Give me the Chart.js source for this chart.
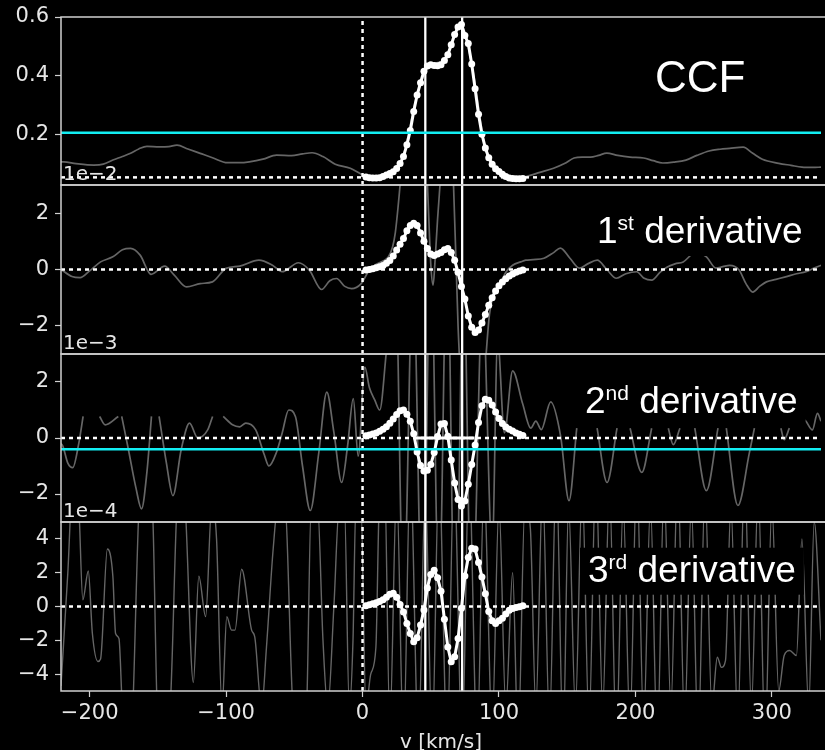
<!DOCTYPE html>
<html>
<head>
<meta charset="utf-8">
<script src="https://cdn.jsdelivr.net/npm/chart.js@4.4.1/dist/chart.umd.min.js"></script>
<style>
  html, body { margin: 0; padding: 0; background: #000; }
  #wrap { position: relative; width: 825px; height: 750px; overflow: hidden; background: #000; }
  canvas { position: absolute; left: 0; }
</style>
</head>
<body>
<div id="wrap">
  <canvas id="p1"></canvas>
  <canvas id="p2"></canvas>
  <canvas id="p3"></canvas>
  <canvas id="p4"></canvas>
</div>
<script>
// ---- data ----
const X_MIN = -221, X_MAX = 336;
const xTicks = [-200, -100, 0, 100, 200, 300];
const ccfTicks = [0.2, 0.4, 0.6];
const d1Ticks = [-2, 0, 2];
const d2Ticks = [-2, 0, 2];
const d3Ticks = [-4, -2, 0, 2, 4];

// velocity grid of the fitted (white) curves, km/s
const velGrid = [2.5,5,7.5,10,12.5,15,17.5,20,22.5,25,27.5,30,32.5,35,37.5,40,42.5,45,47.5,50,
  52.5,55,57.5,60,62.5,65,67.5,70,72.5,75,77.5,80,82.5,85,87.5,90,92.5,95,97.5,100,
  102.5,105,107.5,110,112.5,115,117.5];
const ccfValues = [0.054,0.052,0.051,0.051,0.052,0.056,0.061,0.066,0.072,0.083,0.100,0.124,0.164,0.213,0.278,0.334,0.376,0.415,0.433,0.437,
  0.435,0.434,0.437,0.452,0.471,0.505,0.540,0.566,0.574,0.537,0.510,0.440,0.355,0.268,0.200,0.153,0.120,0.098,0.082,0.073,
  0.064,0.056,0.051,0.049,0.048,0.048,0.049];
// derivatives in units of the axis offset (1e-2, 1e-3, 1e-4)
const deriv1Values = [-0.02,0.0,0.03,0.06,0.1,0.14,0.22,0.32,0.48,0.69,0.9,1.1,1.38,1.56,1.64,1.56,1.3,1.0,0.75,0.55,
  0.5,0.55,0.6,0.7,0.75,0.6,0.33,-0.1,-0.6,-1.05,-1.65,-2.05,-2.24,-2.15,-1.9,-1.6,-1.27,-1.0,-0.76,-0.58,
  -0.44,-0.33,-0.23,-0.16,-0.1,-0.05,-0.02];
const deriv2Values = [0.08,0.11,0.14,0.18,0.24,0.31,0.40,0.53,0.68,0.84,0.97,1.0,0.85,0.6,0.15,-0.5,-0.98,-1.18,-1.15,-0.95,
  -0.52,0.05,0.5,0.52,0.06,-0.79,-1.61,-2.2,-2.43,-2.25,-1.65,-0.95,-0.25,0.55,1.15,1.38,1.35,1.18,0.93,0.7,
  0.52,0.39,0.31,0.25,0.18,0.13,0.09];
const deriv3Values = [0.04,0.1,0.16,0.22,0.3,0.4,0.55,0.72,0.78,0.55,0.12,-0.32,-1.0,-1.6,-2.08,-1.85,-1.1,-0.2,1.1,1.9,
  2.15,1.7,0.9,-0.75,-2.4,-3.27,-2.98,-1.9,-0.1,1.8,2.9,3.45,3.4,2.6,1.75,0.75,-0.3,-0.85,-1.0,-0.85,
  -0.69,-0.45,-0.22,-0.12,-0.06,-0.02,0.04];

// full (gray) curves
const ccfGrayV = [-221,-219,-210,-197,-190,-183,-176,-170,-164,-158,-149,-142,-136,-128,-119,-110,-99,-90,-83,-73,
  -63,-52,-44,-37,-29,-20,-9,-1,5,12,20,30,40,50,60,72,80,90,100,110,
  119,130,140,148,155,161,167,173,179,187,196,206,213,220,228,237,245,254,262,269,
  279,286,293,305,314,322,330,336];
const ccfGrayY = [0.106,0.106,0.100,0.095,0.098,0.112,0.124,0.135,0.150,0.159,0.157,0.158,0.163,0.150,0.135,0.120,0.103,0.103,0.106,0.115,
  0.129,0.127,0.133,0.137,0.124,0.098,0.084,0.064,0.052,0.052,0.066,0.130,0.334,0.437,0.452,0.575,0.440,0.153,0.073,0.049,
  0.055,0.070,0.084,0.100,0.119,0.122,0.122,0.128,0.136,0.128,0.122,0.119,0.110,0.102,0.105,0.112,0.128,0.143,0.149,0.152,
  0.156,0.135,0.115,0.101,0.094,0.088,0.087,0.088];
const d1GrayV = [-221,-213,-207,-200,-192,-183,-176,-170,-163,-155,-145,-138,-129,-119,-110,-100,-90,-76,-66,-59,
  -47,-39,-30,-24,-19,-13,-8,-1,4,9,15,19,22,24,26,28,33,40,45,48,
  50,51.7,53,55,57.5,62,66,70,73,78,84,88,90.3,93,96,100.5,105,110,116,119.6,
  125,133,140,145,152,159,165,172,179,186,193,201,206,212,218,223,229,235,244,252,
  259,264,269,276,281,286,291,296,303,310,318,325,331,336];
const d1GrayY = [0.0,-0.25,-0.29,-0.05,0.27,0.45,0.7,0.75,0.51,-0.17,0.12,-0.2,-0.62,-0.5,-0.44,0.04,0.12,0.33,0.15,-0.08,
  0.24,-0.02,-0.71,-0.4,-0.32,-0.6,-0.68,-0.5,-0.1,0.15,0.3,0.45,0.8,1.3,2.2,3.3,7,9,6,2.5,
  0.2,-0.56,0.2,1.8,3.5,7,4,-2,-5,-9,-8,-5,-3.2,-1.6,-0.9,-0.56,-0.1,0.15,0.27,0.33,
  0.35,0.4,0.6,0.76,0.4,0.05,0.2,0.33,0.0,-0.31,-0.15,-0.08,-0.3,-0.38,-0.1,0.08,0.2,0.27,0.6,0.45,
  0.05,0.1,0.15,-0.02,-0.5,-0.8,-0.6,-0.44,-0.35,-0.26,-0.15,-0.08,0.05,0.15];
const d2GrayV = [-221,-219.6,-216,-212.4,-208,-204.8,-200,-192.7,-188.6,-179,
  -178,-176.5,-171.6,-166,-162,-158,-154.7,-152,-149.1,-143.8,
  -139,-132.9,-126.8,-120.8,-113.5,-109.9,-106,-102.1,-95.3,-90,
  -85.6,-78.3,-72,-68.6,-63,-58.9,-54.1,-49.2,-44,-38.3,
  -32,-26.2,-21,-15.3,-11,-6.8,-3.2,1.7,5,9,
  12.6,17.5,24,30,37,44,50,56,62,68,
  74,80,88,95,99,104,110,117.3,123.3,127,
  131,137.9,145.2,151.3,157,165,171.9,179.2,186.5,190,
  196.1,204.7,211.9,218,224.1,227.7,232.6,238,243.5,252,
  260.5,263,266.6,275.1,283.5,287.2,297,306.6,309,312.8,
  316,320,323.6,329.7,333.4,336];
const d2GrayY = [-0.2,-0.3,-0.9,-1.06,-0.2,0.77,null,0.77,0.47,0.77,
  null,0.77,-0.41,-1.8,-2.53,-1.2,0.77,null,0.77,-0.88,
  -2.06,-0.41,0.53,0.0,0.29,0.77,null,0.77,0.47,0.4,
  0.53,0.29,-0.6,-1.0,-0.5,0.18,1.0,0.77,-1.0,-2.59,
  -0.5,1.64,0.2,-1.59,-0.3,1.41,-0.65,2.53,1.8,1.35,
  1.0,3.1,6,-6,6,-7,7,-6,7,-8,
  6,-7,5,-4,3.5,0.18,2.4,1.23,0.35,0.6,
  0.3,1.29,0.06,-2.24,0.35,null,0.35,-1.59,0.35,null,
  0.35,-1.23,0.35,null,0.35,-0.24,0.35,null,0.35,-1.88,
  0.35,null,0.35,-2.41,-0.53,0.35,null,0.35,-0.06,0.35,
  null,0.5,0.65,0.29,0.88,0.6];
const d3GrayV = [-221,-216,-212,-208,-205,-201,-198,-194,-192,-187,
  -183,-181,-178.5,-176,-170,-163,-158,-154,-150,-146,
  -141,-136,-133,-130,-124,-120,-115,-110.5,-107,-103,
  -99.5,-96,-93.5,-88.6,-81.3,-79,-74,-70.4,-65.5,-62,
  -57,-51,-45,-41,-37.6,-33,-29,-25.5,-21,-17,
  -13.3,-9.7,-7,-4.9,-1.2,2.5,6,9.8,12.2,16,
  20,25,30,35,41,46,51,56,62,67,
  73,78,84,89,95,100,105,110,114,119,
  123,127,132,137,142,147,151,156,161,166,
  171,176,181,186,191,196,201,206,211,216,
  221,226,231,236,241,246,251,256,260,263,
  266,270,275,280,285,290,295,300,305,309,
  313,318,322,327,331,336];
const d3GrayY = [-4.7,2,8,6,0.4,2.1,-1.6,-3.25,-3.1,3.4,
  1.8,-1.6,-1.9,-6,-8,7,8,6,-7,-8,
  -6,6,8,6,-4.5,1.8,-0.6,6,4,-6,
  -0.6,-1.4,-1.4,2.2,-1.4,-1.8,-6,-2.4,3.4,6,
  6,-6,-8,-6,6,6,-2,-6,0,6,
  6,-6,-2,6,6,-6,-4,-2.4,6,8,
  -7,7,-8,8,-8,7,-8,8,-8,8,
  -8,8,-8,7,-7,6,-6,2,-8,6,
  4.6,-6,7,-7,8,-8,6,-6,7,-7,
  8,-6,7,-8,6,-7,8,-7,6,-8,
  7,-6,8,-7,6,-8,7,-6,-3,-3.6,
  -3.2,6,-7,8,-6,7,-8,6,-5,-2.9,
  -2.6,-2.9,4,-6,5,-2];

const markerVels = [46, 73];     // solid vertical lines
const zeroVel = 0;               // dotted vertical line
const ccfBaseline = 0.053;
const ccfThreshold = 0.205;
const d2Threshold = -0.40;
const d2NegSpan = [38.5, 82];    // white segment on zero, 2nd derivative

// ---- helpers ----
const pts = (xs, ys) => xs.map((x, i) => ({x: x, y: ys[i]}));
const hLine = y => [{x: X_MIN, y: y}, {x: X_MAX, y: y}];
const vLine = (x, lo, hi) => [{x: x, y: lo}, {x: x, y: hi}];
const fmt = (v, d) => (d ? v.toFixed(d) : String(v)).replace('-', '\u2212');

Chart.defaults.font.family = '"DejaVu Sans", sans-serif';
Chart.defaults.font.size = 21;
Chart.defaults.color = '#e6e6e6';

const decor = {
  id: 'decor',
  afterDatasetsDraw(chart, args, opts) {
    const ctx = chart.ctx, a = chart.chartArea;
    ctx.save();
    const lab = opts.label;
    if (lab) {
      let w = 0;
      lab.parts.forEach(p => {
        ctx.font = p[1] + 'px "Liberation Sans", Arial, sans-serif';
        w += ctx.measureText(p[0]).width;
      });
      const y = a.top + lab.dy;
      ctx.fillStyle = '#000';
      ctx.fillRect(lab.x - 8, y - lab.capH - 8, w + 16, lab.capH + 21);
      ctx.fillStyle = '#fff';
      ctx.textAlign = 'left';
      ctx.textBaseline = 'alphabetic';
      let x = lab.x;
      lab.parts.forEach(p => {
        ctx.font = p[1] + 'px "Liberation Sans", Arial, sans-serif';
        ctx.fillText(p[0], x, y - p[2]);
        x += ctx.measureText(p[0]).width;
      });
    }
    ctx.strokeStyle = '#d0d0d0';
    ctx.lineWidth = 1.5;
    ctx.strokeRect(a.left, a.top, a.right - a.left + 10, a.bottom - a.top);
    if (opts.offsetText) {
      ctx.font = '20px "DejaVu Sans", sans-serif';
      ctx.fillStyle = '#e6e6e6';
      ctx.textAlign = 'left';
      ctx.textBaseline = 'alphabetic';
      ctx.fillText(opts.offsetText, a.left + 2, a.top - 5);
    }
    ctx.restore();
  }
};

// y tick labels ask for ~19px above/below the plot, so leave room for it
const PAD_TOP = 25, PAD_BOTTOM = 22;

function makePanel(id, p) {
  const last = !!p.last;
  const canvas = document.getElementById(id);
  const top = p.top - PAD_TOP;
  const height = last ? 760 - top : (p.bottom - p.top) + PAD_TOP + PAD_BOTTOM;
  canvas.width = 825;
  canvas.height = height;
  canvas.style.top = top + 'px';

  const datasets = [];
  if (p.cyan !== undefined) {
    datasets.push({data: hLine(p.cyan), borderColor: '#12eef2', borderWidth: 2.5});
  }
  datasets.push({data: pts(velGrid, p.main), borderColor: '#fff', borderWidth: 3,
    pointRadius: 3.5, pointBackgroundColor: '#fff', pointBorderWidth: 0});
  if (p.segment) {
    datasets.push({data: [{x: p.segment[0], y: 0}, {x: p.segment[1], y: 0}], borderColor: '#fff', borderWidth: 3});
  }
  markerVels.forEach(v => datasets.push({data: vLine(v, p.yMin, p.yMax), borderColor: '#fff', borderWidth: 2.3}));
  datasets.push({data: vLine(zeroVel, p.yMin, p.yMax), borderColor: '#fff', borderWidth: 2.5, borderDash: [4, 4]});
  datasets.push({data: hLine(p.base), borderColor: '#fff', borderWidth: 2.5, borderDash: [4, 4]});
  datasets.push({data: pts(p.grayV, p.grayY), borderColor: 'rgba(255,255,255,0.4)', borderWidth: p.grayWidth || 1.7,
    cubicInterpolationMode: 'monotone'});

  const xScale = {
    type: 'linear', min: X_MIN, max: X_MAX, display: last,
    afterBuildTicks: s => { s.ticks = xTicks.map(v => ({value: v})); s.min = X_MIN; s.max = X_MAX; },
    grid: {drawOnChartArea: false, drawTicks: true, tickLength: 6, color: '#d0d0d0', tickWidth: 1.2},
    border: {display: false},
    ticks: {padding: 4, maxRotation: 0, autoSkip: false, callback: v => fmt(v, 0)},
    title: {display: true, text: 'v [km/s]', color: '#e6e6e6', font: {size: 20}, padding: {top: 0, bottom: 5}}
  };
  if (last) xScale.afterFit = s => { s.height = 69; };

  return new Chart(canvas, {
    type: 'line',
    data: {datasets: datasets},
    options: {
      responsive: false,
      animation: false,
      events: [],
      layout: {padding: {top: PAD_TOP, bottom: last ? 0 : PAD_BOTTOM, left: 0, right: 0}},
      elements: {point: {radius: 0}, line: {tension: 0}},
      plugins: {
        legend: {display: false},
        tooltip: {enabled: false},
        decor: {label: p.label, offsetText: p.offsetText}
      },
      scales: {
        x: xScale,
        y: {
          min: p.yMin, max: p.yMax,
          afterBuildTicks: s => { s.ticks = p.ticks.map(v => ({value: v})); s.min = p.yMin; s.max = p.yMax; },
          afterFit: s => { s.width = 61; },
          grid: {drawOnChartArea: false, drawTicks: true, tickLength: 6, color: '#d0d0d0', tickWidth: 1.2},
          border: {display: false},
          ticks: {padding: 6, autoSkip: false, callback: v => fmt(v, p.digits)}
        }
      }
    },
    plugins: [decor]
  });
}

makePanel('p1', {top: 17, bottom: 185, yMin: 0.027, yMax: 0.6, ticks: ccfTicks, digits: 1,
  main: ccfValues, grayV: ccfGrayV, grayY: ccfGrayY, base: ccfBaseline, cyan: ccfThreshold,
  label: {x: 655, dy: 74.7, capH: 32, parts: [['CCF', 44, 0]]}});
makePanel('p2', {top: 185, bottom: 354, yMin: -3, yMax: 3, ticks: d1Ticks, digits: 0,
  main: deriv1Values, grayV: d1GrayV, grayY: d1GrayY, base: 0, offsetText: '1e\u22122',
  label: {x: 597, dy: 58, capH: 26, parts: [['1', 37, 0], ['st', 21, 13], [' derivative', 37, 0]]}});
makePanel('p3', {top: 354, bottom: 522, yMin: -3, yMax: 3, ticks: d2Ticks, digits: 0,
  main: deriv2Values, grayV: d2GrayV, grayY: d2GrayY, base: 0, cyan: d2Threshold, segment: d2NegSpan,
  offsetText: '1e\u22123',
  label: {x: 585, dy: 58.7, capH: 26, parts: [['2', 37, 0], ['nd', 21, 13], [' derivative', 37, 0]]}});
makePanel('p4', {top: 522, bottom: 691, yMin: -5, yMax: 5, ticks: d3Ticks, digits: 0, last: true,
  main: deriv3Values, grayV: d3GrayV, grayY: d3GrayY, base: 0, offsetText: '1e\u22124', grayWidth: 1.4,
  label: {x: 588, dy: 59.7, capH: 26, parts: [['3', 37, 0], ['rd', 21, 13], [' derivative', 37, 0]]}});
</script>
</body>
</html>
